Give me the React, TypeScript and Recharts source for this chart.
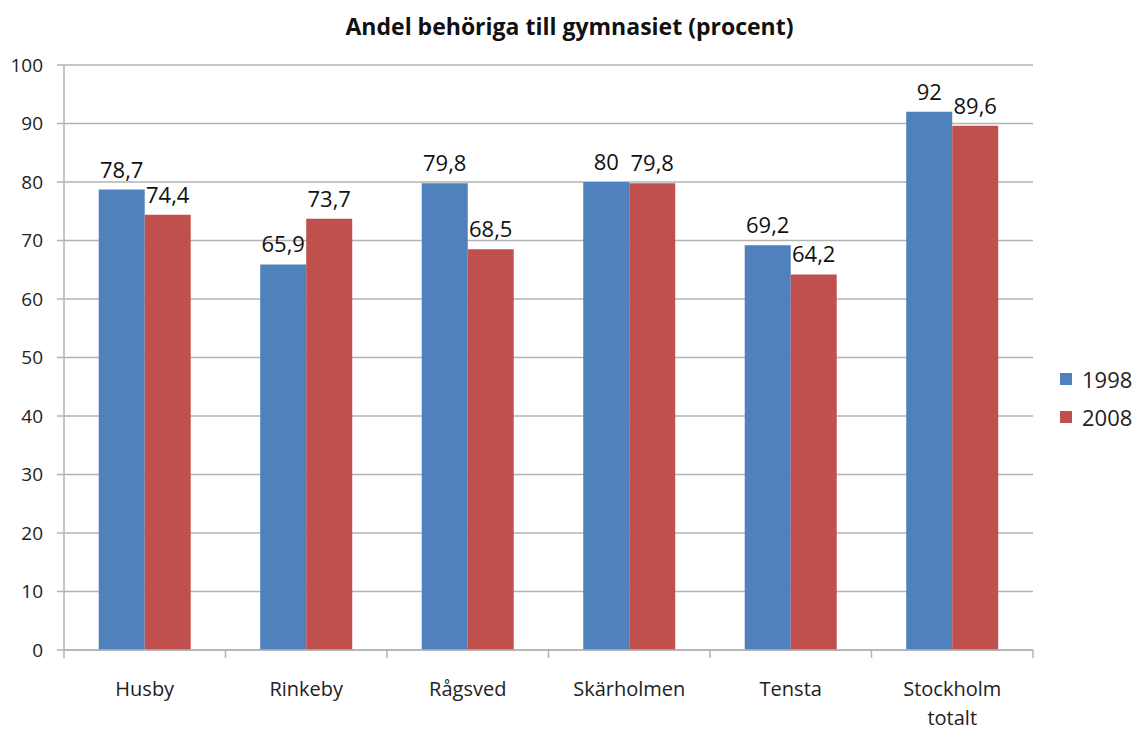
import React from 'react';
import { BarChart, Bar, XAxis, YAxis, CartesianGrid, LabelList } from 'recharts';

const categories = ['Husby', 'Rinkeby', 'Rågsved', 'Skärholmen', 'Tensta', 'Stockholm totalt'];
const values1998 = [78.7, 65.9, 79.8, 80, 69.2, 92];
const values2008 = [74.4, 73.7, 68.5, 79.8, 64.2, 89.6];
const yTicks = [0, 10, 20, 30, 40, 50, 60, 70, 80, 90, 100];
const seriesNames = ['1998', '2008'];

const data = categories.map((c, i) => ({ name: c, a: values1998[i], b: values2008[i] }));

const W = 1139;
const H = 731;
const M = { top: 65, right: 106, left: 0, bottom: 0 };
const Y_W = 64;
const X_H = 81;
const FONT = 'Open Sans, Liberation Sans, sans-serif';
const BLUE = '#4F81BD';
const RED = '#C0504D';
const GRID = '#b3b3b3';

const plotW = W - M.left - M.right - Y_W;
const band = plotW / categories.length;

const fmt = (v: any) => String(v).replace('.', ',');

const XTick = (props: any) => {
  const { x, y, payload, index } = props;
  const words = String(payload.value).split(' ');
  const lines = words.length > 1 ? words : [payload.value];
  return (
    <g>
      <line x1={x - band / 2} x2={x - band / 2} y1={y - 8} y2={y} stroke={GRID} strokeWidth={1.5} />
      {index === categories.length - 1 && (
        <line x1={x + band / 2} x2={x + band / 2} y1={y - 8} y2={y} stroke={GRID} strokeWidth={1.5} />
      )}
      <text x={x} y={y + 38} textAnchor="middle" fontFamily={FONT} fontSize={20} fill="#222">
        {lines.map((l: string, i: number) => (
          <tspan key={i} x={x} dy={i === 0 ? 0 : 29}>{l}</tspan>
        ))}
      </text>
    </g>
  );
};

export default function App() {
  return (
    <div style={{ position: 'absolute', left: 0, top: 0, width: W, height: H, background: '#fff' }}>
      <div style={{ position: 'absolute', left: 0, top: 10, width: W, textAlign: 'center', fontFamily: FONT, fontWeight: 700, fontSize: 23, color: '#111' }}>
        Andel behöriga till gymnasiet (procent)
      </div>
      <div style={{ position: 'absolute', left: 1060, top: 360, fontFamily: FONT, fontSize: 22, color: '#222' }}>
        {seriesNames.map((n, i) => (
          <div key={n} style={{ display: 'flex', alignItems: 'center', height: 38 }}>
            <span style={{ display: 'inline-block', width: 12, height: 12, background: i === 0 ? BLUE : RED, marginRight: 10 }} />
            {n}
          </div>
        ))}
      </div>
      <BarChart width={W} height={H} data={data} margin={M} barCategoryGap="21.5%" barGap={0}>
        <CartesianGrid vertical={false} stroke={GRID} strokeWidth={1.5} />
        <XAxis
          dataKey="name"
          height={X_H}
          interval={0}
          axisLine={{ stroke: GRID, strokeWidth: 1.5 }}
          tickLine={false}
          tick={<XTick />}
        />
        <YAxis
          width={Y_W}
          domain={[0, 100]}
          ticks={yTicks}
          interval={0}
          axisLine={{ stroke: GRID, strokeWidth: 1.5 }}
          tickLine={{ stroke: GRID, strokeWidth: 1.5 }}
          tickSize={7}
          tickMargin={14}
          tick={{ fontFamily: FONT, fontSize: 19, fill: '#222' }}
        />
        <Bar dataKey="a" name="1998" fill={BLUE} isAnimationActive={false}>
          <LabelList dataKey="a" position="top" offset={12} formatter={fmt} style={{ fontFamily: FONT, fontSize: 22, fill: '#111' }} />
        </Bar>
        <Bar dataKey="b" name="2008" fill={RED} isAnimationActive={false}>
          <LabelList dataKey="b" position="top" offset={12} formatter={fmt} style={{ fontFamily: FONT, fontSize: 22, fill: '#111' }} />
        </Bar>
      </BarChart>
    </div>
  );
}
